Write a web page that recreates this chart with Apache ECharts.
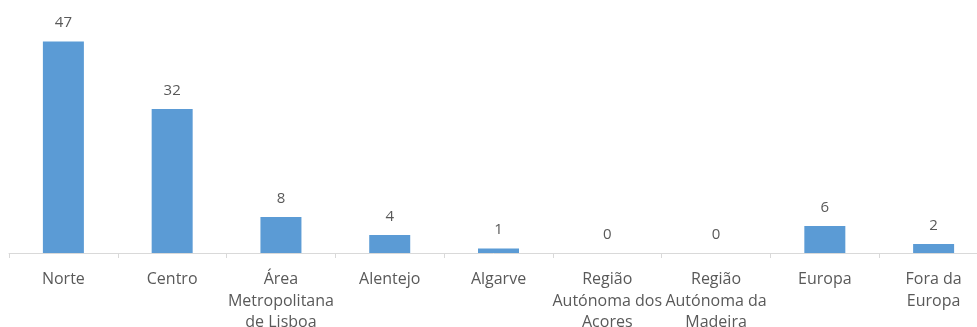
<!DOCTYPE html>
<html>
<head>
<meta charset="utf-8">
<script src="https://cdn.jsdelivr.net/npm/echarts@6/dist/echarts.min.js"></script>
<style>
  html, body { margin: 0; padding: 0; background: #fff; }
  #chart { width: 977px; height: 327px; }
</style>
</head>
<body>
<div id="chart"></div>
<script>
// Regions (axis labels, wrapped as they are printed)
const categories = [
  'Norte',
  'Centro',
  'Área\nMetropolitana\nde Lisboa',
  'Alentejo',
  'Algarve',
  'Região\nAutónoma dos\nAçores',
  'Região\nAutónoma da\nMadeira',
  'Europa',
  'Fora da\nEuropa'
];
// Counts per region
const values = [47, 32, 8, 4, 1, 0, 0, 6, 2];

const textColor = '#595959';
const fontFamily = 'Open Sans, Lato, sans-serif';

const chart = echarts.init(document.getElementById('chart'), null, { renderer: 'canvas' });
chart.setOption({
  animation: false,
  backgroundColor: '#ffffff',
  // The last label rows run past the bottom edge, so the plot keeps its fixed box
  grid: { left: 9, right: -11, top: 28, bottom: 74, containLabel: false, outerBoundsMode: 'none' },
  xAxis: {
    type: 'category',
    data: categories,
    axisLine: { show: true, lineStyle: { color: '#d9d9d9', width: 1 } },
    axisTick: { show: true, length: 5, alignWithLabel: false, lineStyle: { color: '#d9d9d9' } },
    axisLabel: {
      interval: 0,
      margin: 16,
      color: textColor,
      fontFamily: fontFamily,
      fontSize: 16,
      lineHeight: 21.5
    }
  },
  yAxis: {
    type: 'value',
    min: 0,
    max: 50,
    show: false,
    splitLine: { show: false }
  },
  series: [{
    type: 'bar',
    data: values,
    barWidth: 41,
    itemStyle: { color: '#5b9bd5' },
    label: {
      show: true,
      position: 'top',
      distance: 11,
      color: textColor,
      fontFamily: fontFamily,
      fontSize: 15
    }
  }]
});
</script>
</body>
</html>
